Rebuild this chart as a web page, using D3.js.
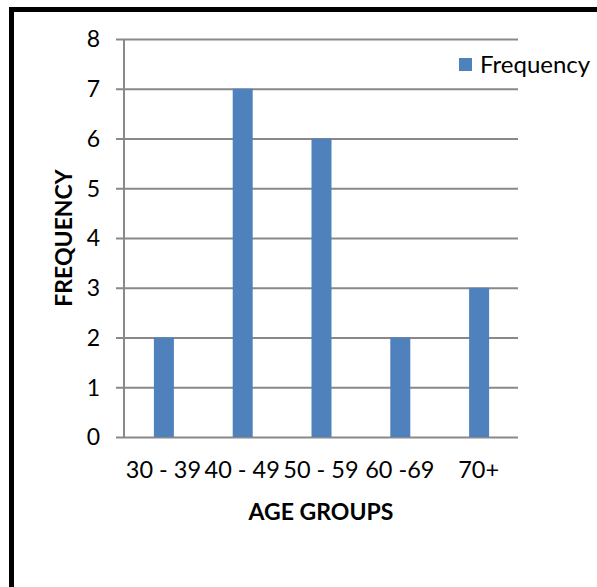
<!DOCTYPE html>
<html><head><meta charset="utf-8">
<script src="https://cdn.jsdelivr.net/npm/d3@7"></script>
<style>
html,body{margin:0;padding:0;background:#fff;}
svg{display:block;}
</style></head>
<body>
<script>
const categories = ["30 - 39", "40 - 49", "50 - 59", "60 -69", "70+"];
const frequency = [2, 7, 6, 2, 3];
const yTicks = [0, 1, 2, 3, 4, 5, 6, 7, 8];
const seriesName = "Frequency";
const xTitle = "AGE GROUPS";
const yTitle = "FREQUENCY";

(function () {
const W = 597, H = 587;
const FONT = "Lato, 'Open Sans', sans-serif";
const svg = d3.select("body").append("svg").attr("width", W).attr("height", H);

svg.append("rect").attr("width", W).attr("height", H).attr("fill", "#fff");
// frame (top + left visible)
svg.append("line").attr("x1", 9).attr("x2", W).attr("y1", 9.5).attr("y2", 9.5)
  .attr("stroke", "#000").attr("stroke-width", 5);
svg.append("line").attr("x1", 11.5).attr("x2", 11.5).attr("y1", 7).attr("y2", H)
  .attr("stroke", "#000").attr("stroke-width", 5);

const pl = 124, pr = 518, pt = 39, pb = 437;
const x = d3.scaleBand().domain(categories).range([pl, pr]).padding(0);
const y = d3.scaleLinear().domain([0, 8]).range([pb, pt]);

// gridlines
const yAxis = d3.axisLeft(y).tickValues(yTicks).tickSize(-(pr - pl)).tickPadding(0).tickFormat("");
const gy = svg.append("g").attr("transform", `translate(${pl},0)`).call(yAxis);
gy.select(".domain").remove();
gy.selectAll(".tick line").attr("stroke", "#898989").attr("stroke-width", 2).attr("x1", -8);

// y axis line
svg.append("line").attr("x1", pl).attr("x2", pl).attr("y1", pt).attr("y2", pb)
  .attr("stroke", "#898989").attr("stroke-width", 2);

// y tick labels
svg.append("g").selectAll("text").data(yTicks).join("text")
  .attr("x", 100).attr("y", d => y(d)).attr("dy", "0.36em")
  .attr("text-anchor", "end").attr("font-family", FONT).attr("font-size", 23).attr("fill", "#000")
  .text(d => d);

// bars
const bw = 20;
svg.append("g").selectAll("rect").data(frequency).join("rect")
  .attr("x", (d, i) => x(categories[i]) + x.bandwidth() / 2 - bw / 2 + 0.5)
  .attr("width", bw)
  .attr("y", d => y(d))
  .attr("height", d => y(0) - y(d))
  .attr("fill", "#4F81BD");

// x labels
svg.append("g").selectAll("text").data(categories).join("text")
  .attr("x", d => x(d) + x.bandwidth() / 2).attr("y", 478)
  .attr("text-anchor", "middle").attr("font-family", FONT).attr("font-size", 23.5).attr("fill", "#000")
  .text(d => d);

// axis titles
svg.append("text").attr("x", (pl + pr) / 2).attr("y", 520)
  .attr("text-anchor", "middle").attr("font-family", FONT).attr("font-weight", "bold")
  .attr("font-size", 23).attr("fill", "#000").text(xTitle);
svg.append("text").attr("transform", `translate(72,${(pt + pb) / 2}) rotate(-90)`)
  .attr("text-anchor", "middle").attr("font-family", FONT).attr("font-weight", "bold")
  .attr("font-size", 23).attr("fill", "#000").text(yTitle);

// legend
const lg = svg.append("g").attr("transform", "translate(459,58)");
lg.append("rect").attr("width", 13).attr("height", 13).attr("fill", "#4F81BD");
lg.append("text").attr("x", 21).attr("y", 6.5).attr("dy", "0.36em")
  .attr("font-family", FONT).attr("font-size", 24).attr("fill", "#000").text(seriesName);
})();
</script>
</body></html>
